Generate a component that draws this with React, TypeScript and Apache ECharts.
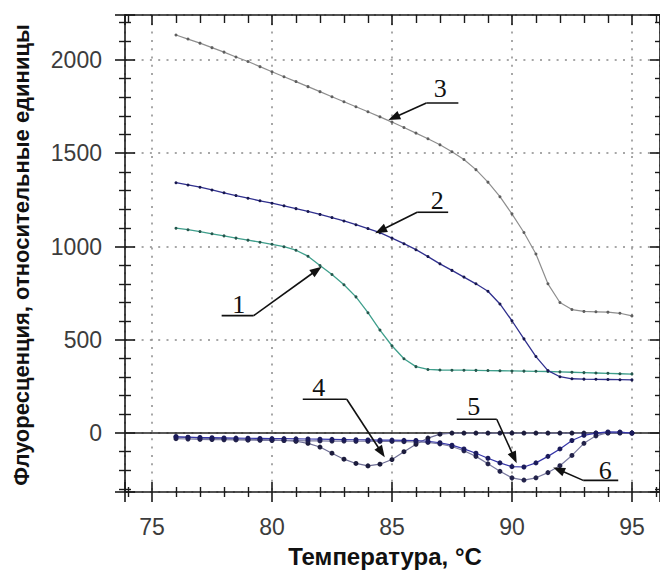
import React, { useEffect, useRef } from "react";
import * as echarts from "echarts";

// ---------- data ----------
const temps = [
  76, 76.5, 77, 77.5, 78, 78.5, 79, 79.5, 80, 80.5, 81, 81.5, 82, 82.5, 83, 83.5, 84, 84.5, 85, 85.5,
  86, 86.5, 87, 87.5, 88, 88.5, 89, 89.5, 90, 90.5, 91, 91.5, 92, 92.5, 93, 93.5, 94, 94.5, 95,
];

const curve1 = [
  1098, 1090, 1080, 1068, 1057, 1045, 1034, 1023, 1012, 999, 980, 948, 898, 850, 795, 730, 645, 552, 468, 398,
  356, 341, 338, 337, 337, 336, 335, 334, 333, 332, 331, 330, 328, 326, 324, 322, 320, 318, 316,
];

const curve2 = [
  1342, 1330, 1318, 1303, 1288, 1273, 1259, 1245, 1232, 1218, 1203, 1188, 1172, 1155, 1137, 1117, 1096, 1074, 1045, 1015,
  983, 946, 907, 872, 836, 800, 760, 692, 602, 505, 410, 335, 302, 291, 289, 288, 287, 286, 285,
];

const curve3 = [
  2134, 2112, 2090, 2066, 2042, 2016, 1992, 1964, 1937, 1910, 1884, 1857, 1830, 1803, 1776, 1749, 1722, 1695, 1667, 1638,
  1608, 1578, 1545, 1508, 1466, 1412, 1345, 1267, 1175, 1075, 960, 800, 700, 662, 652, 650, 648, 642, 628,
];

const curve4 = [
  -20, -24, -27, -29, -31, -33, -34, -35, -37, -39, -44, -55, -75, -108, -140, -163, -176, -167, -142, -100,
  -60, -27, -6, 0, 0, 0, 0, 0, 0, 0, 0, 0, 0, 0, 0, 0, 0, 0, 0,
];

const curve5 = [
  -20, -22, -24, -25, -26, -27, -28, -29, -30, -30, -31, -32, -33, -34, -35, -36, -37, -38, -38, -39,
  -40, -44, -52, -65, -85, -108, -135, -160, -180, -182, -160, -125, -85, -40, -12, 0, 6, 5, 0,
];

const curve6 = [
  -30, -32, -34, -35, -36, -37, -38, -39, -40, -40, -41, -42, -42, -43, -43, -44, -44, -45, -45, -46,
  -47, -50, -58, -72, -95, -125, -165, -205, -240, -252, -240, -212, -175, -120, -55, -15, 2, 4, 0,
];

const xAxisName = "Температура, °C";
const yAxisName = "Флуоресценция, относительные единицы";

// annotation labels and the data points their arrows point at
const annLabels = ["1", "2", "3", "4", "5", "6"];
const annTipX = [82.07, 84.3, 84.85, 84.7, 90.2, 91.72];
const annTipY = [892, 1071, 1678, -130, -162, -184];

// ---------- layout / style ----------
const FONT = "'Liberation Sans', Arial, Helvetica, sans-serif";
const SERIF = "'Liberation Serif', 'Times New Roman', serif";
const AX = "#1a1a1a";
const X_MIN = 73.875;
const X_MAX = 96.17;
const Y_MIN = -316;
const Y_MAX = 2241;
const gridRect = { left: 125, right: 0, top: 15, bottom: 79 };

// pixel offsets from arrow tip: text centre, underline x-range, underline y, arrow start side
const annLayout = [
  { t: [-83, 38], ul: [-100, -68], uy: 49, from: "right" },
  { t: [62, -33], ul: [42, 73], uy: -21, from: "left" },
  { t: [52, -32], ul: [38, 70], uy: -17, from: "left" },
  { t: [-66, -70], ul: [-82, -38], uy: -58, from: "right" },
  { t: [-43, -57], ul: [-60, -20], uy: -44, from: "right" },
  { t: [52, 3], ul: [30, 65], uy: 13, from: "left" },
];

const fmt = (v: number) => String(v);

function axisBase(extra: any) {
  return {
    type: "value",
    splitNumber: 5,
    axisLine: { show: false, onZero: false, lineStyle: { color: AX, width: 1.5 } },
    axisTick: { show: true, inside: true, length: 10, lineStyle: { color: AX, width: 1.6 } },
    minorTick: { show: true, splitNumber: 5, length: 5, lineStyle: { color: AX, width: 1.4 } },
    axisLabel: { show: false },
    splitLine: { show: false },
    ...extra,
  };
}

function lineSeries(name: string, values: number[], lineColor: string, dotColor: string, size: number, width: number, z: number) {
  return {
    type: "line",
    name,
    xAxisIndex: 0,
    yAxisIndex: 0,
    data: temps.map((t, i) => [t, values[i]]),
    symbol: "circle",
    symbolSize: size,
    showSymbol: true,
    lineStyle: { color: lineColor, width },
    itemStyle: { color: dotColor, borderWidth: 0 },
    emphasis: { disabled: true },
    z,
  };
}

export default function App() {
  const ref = useRef<HTMLDivElement>(null);

  useEffect(() => {
    if (!ref.current) return;
    const chart = echarts.init(ref.current, null, { renderer: "svg" });

    const gridLine = { show: true, lineStyle: { color: "#8a8a8a", width: 1.5, type: [2, 6.3] } };

    const option: any = {
      animation: false,
      textStyle: { fontFamily: FONT },
      grid: [{ ...gridRect }, { ...gridRect }],
      xAxis: [
        axisBase({
          gridIndex: 0,
          position: "bottom",
          min: X_MIN,
          max: X_MAX,
          axisLine: { show: true, onZero: false, lineStyle: { color: AX, width: 1.6 } },
          axisTick: { show: true, inside: false, length: 10, lineStyle: { color: AX, width: 1.6 } },
          minorTick: { show: true, splitNumber: 5, length: 5, lineStyle: { color: AX, width: 1.4 } },
          axisLabel: {
            show: true,
            margin: 23,
            fontSize: 23,
            color: "#3c3c3c",
            fontFamily: FONT,
            showMinLabel: false,
            showMaxLabel: false,
            formatter: fmt,
          },
          splitLine: gridLine,
        }),
        axisBase({
          gridIndex: 0,
          position: "top",
          min: X_MIN,
          max: X_MAX,
          axisLine: { show: true, onZero: false, lineStyle: { color: AX, width: 1.6 } },
          minorTick: { show: true, splitNumber: 5, length: 8, lineStyle: { color: AX, width: 1.4 } },
        }),
        axisBase({ gridIndex: 1, position: "bottom", min: X_MIN, max: X_MAX }),
      ],
      yAxis: [
        axisBase({
          gridIndex: 0,
          position: "left",
          min: Y_MIN,
          max: Y_MAX,
          axisLine: { show: true, onZero: false, lineStyle: { color: AX, width: 1.6 } },
          axisTick: { show: true, inside: false, length: 10, lineStyle: { color: AX, width: 1.6 } },
          minorTick: { show: true, splitNumber: 5, length: 6, lineStyle: { color: AX, width: 1.4 } },
          axisLabel: {
            show: true,
            margin: 23,
            fontSize: 23,
            color: "#3c3c3c",
            fontFamily: FONT,
            showMinLabel: false,
            showMaxLabel: false,
            formatter: fmt,
          },
          splitLine: gridLine,
        }),
        axisBase({
          gridIndex: 0,
          position: "right",
          min: Y_MIN,
          max: Y_MAX,
          axisLine: { show: true, onZero: false, lineStyle: { color: AX, width: 1.6 } },
        }),
        axisBase({
          gridIndex: 1,
          position: "left",
          min: Y_MIN,
          max: Y_MAX,
          minorTick: { show: true, splitNumber: 5, length: 6, lineStyle: { color: AX, width: 1.4 } },
        }),
      ],
      series: [
        lineSeries("1", curve1, "#3f9f8c", "#24564c", 3, 1.3, 3),
        lineSeries("2", curve2, "#30308e", "#17174f", 3, 1.3, 4),
        lineSeries("3", curve3, "#8e8e8e", "#5e5e5e", 3, 1.2, 3),
        {
          ...lineSeries("4", curve4, "#6f6f96", "#1c1c3c", 5, 1.2, 5),
          markLine: {
            silent: true,
            symbol: "none",
            label: { show: false },
            lineStyle: { color: "#222", width: 1.6, type: "solid" },
            data: [{ yAxis: 0 }],
            z: 2,
          },
        },
        lineSeries("5", curve5, "#3535a8", "#1a1a5a", 5, 1.2, 6),
        lineSeries("6", curve6, "#7a7aa0", "#23234a", 5, 1.2, 5),
      ],
    };

    chart.setOption(option);

    const graphics: any[] = [];
    annLabels.forEach((lab, i) => {
      const p = chart.convertToPixel({ seriesIndex: 0 }, [annTipX[i], annTipY[i]]) as number[];
      const tx = p[0];
      const ty = p[1];
      const L = annLayout[i];
      const ux1 = tx + L.ul[0];
      const ux2 = tx + L.ul[1];
      const uy = ty + L.uy;
      const sx = L.from === "left" ? ux1 : ux2;
      const dx = tx - sx;
      const dy = ty - uy;
      const len = Math.hypot(dx, dy);
      const vx = dx / len;
      const vy = dy / len;
      const hl = 12;
      const hw = 4.5;
      const bx = tx - vx * hl;
      const by = ty - vy * hl;
      graphics.push({
        type: "line",
        z: 100,
        shape: { x1: ux1, y1: uy, x2: ux2, y2: uy },
        style: { stroke: "#111", lineWidth: 1.6 },
      });
      graphics.push({
        type: "line",
        z: 100,
        shape: { x1: sx, y1: uy, x2: bx + vx * 2, y2: by + vy * 2 },
        style: { stroke: "#111", lineWidth: 1.6 },
      });
      graphics.push({
        type: "polygon",
        z: 100,
        shape: {
          points: [
            [tx, ty],
            [bx - vy * hw, by + vx * hw],
            [bx + vy * hw, by - vx * hw],
          ],
        },
        style: { fill: "#111" },
      });
      graphics.push({
        type: "text",
        z: 100,
        x: tx + L.t[0],
        y: ty + L.t[1],
        style: {
          text: lab,
          font: `26px ${SERIF}`,
          fill: "#111",
          align: "center",
          verticalAlign: "middle",
          textAlign: "center",
          textVerticalAlign: "middle",
        },
      });
    });

    graphics.push({
      type: "text",
      z: 100,
      x: 385,
      y: 556,
      style: {
        text: xAxisName,
        font: `bold 24px ${FONT}`,
        fill: "#111",
        align: "center",
        verticalAlign: "middle",
        textAlign: "center",
        textVerticalAlign: "middle",
      },
    });
    graphics.push({
      type: "text",
      z: 100,
      x: 21,
      y: 255,
      rotation: Math.PI / 2,
      style: {
        text: yAxisName,
        font: `bold 22px ${FONT}`,
        fill: "#111",
        align: "center",
        verticalAlign: "middle",
        textAlign: "center",
        textVerticalAlign: "middle",
      },
    });

    chart.setOption({ graphic: graphics });

    return () => chart.dispose();
  }, []);

  return (
    <div
      ref={ref}
      style={{ position: "absolute", left: 0, top: 0, width: 660, height: 571, background: "#fff" }}
    />
  );
}
